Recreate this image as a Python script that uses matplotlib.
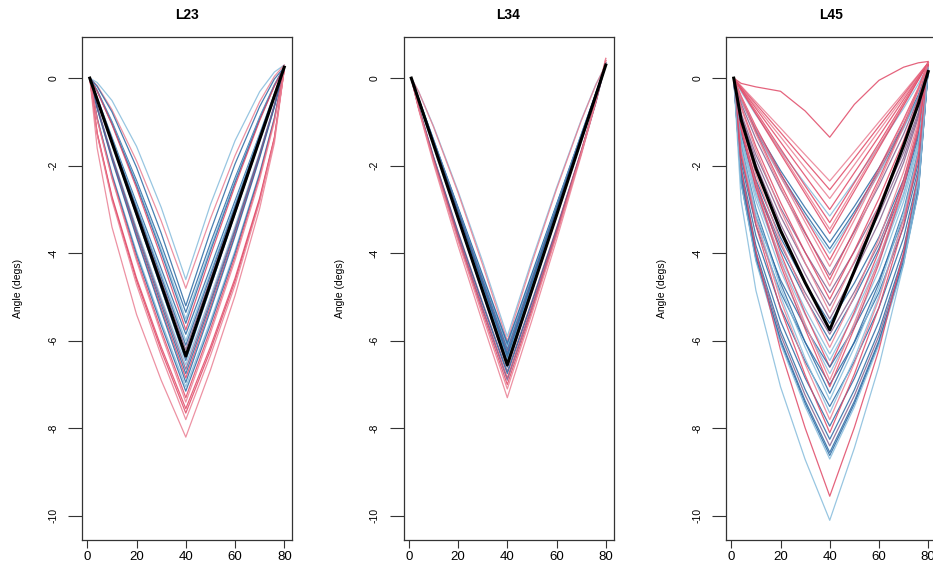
import matplotlib.pyplot as plt

plt.rcParams["font.family"] = ["Liberation Sans", "DejaVu Sans"]
plt.rcParams["axes.unicode_minus"] = False

knots = [1, 4, 10, 20, 30, 40, 50, 60, 70, 76, 80]

# group ids: 0 red, 1 pink, 2 light blue, 3 dark blue, 4 purple
l23 = [
    [0, -0.10, -0.51, -1.56, -2.95, -4.60, -2.89, -1.43, -0.31, 0.14, 0.30],
    [0, -0.17, -0.72, -1.89, -3.26, -4.80, -3.21, -1.77, -0.54, 0.04, 0.30],
    [0, -0.19, -0.77, -2.04, -3.54, -5.20, -3.50, -1.96, -0.65, -0.02, 0.25],
    [0, -0.28, -0.99, -2.34, -3.80, -5.35, -3.77, -2.28, -0.89, -0.15, 0.25],
    [0, -0.29, -1.02, -2.40, -3.91, -5.50, -3.88, -2.34, -0.92, -0.16, 0.25],
    [0, -0.29, -1.04, -2.45, -3.98, -5.60, -3.95, -2.39, -0.94, -0.17, 0.25],
    [0, -0.30, -1.06, -2.51, -4.09, -5.75, -4.06, -2.46, -0.97, -0.18, 0.25],
    [0, -0.45, -1.35, -2.85, -4.35, -5.85, -4.33, -2.80, -1.28, -0.36, 0.25],
    [0, -0.46, -1.39, -2.92, -4.46, -6.00, -4.44, -2.88, -1.31, -0.38, 0.25],
    [0, -0.47, -1.41, -2.97, -4.54, -6.10, -4.51, -2.93, -1.34, -0.39, 0.25],
    [0, -0.48, -1.43, -3.02, -4.61, -6.20, -4.59, -2.98, -1.36, -0.40, 0.25],
    [0, -0.50, -1.49, -3.14, -4.80, -6.45, -4.78, -3.10, -1.43, -0.42, 0.25],
    [0, -0.65, -1.75, -3.43, -5.02, -6.55, -5.00, -3.39, -1.70, -0.61, 0.25],
    [0, -0.66, -1.78, -3.48, -5.09, -6.65, -5.08, -3.45, -1.73, -0.62, 0.25],
    [0, -0.67, -1.80, -3.54, -5.17, -6.75, -5.15, -3.50, -1.76, -0.63, 0.25],
    [0, -0.68, -1.83, -3.59, -5.25, -6.85, -5.23, -3.56, -1.79, -0.64, 0.25],
    [0, -0.69, -1.86, -3.64, -5.32, -6.95, -5.31, -3.61, -1.82, -0.66, 0.25],
    [0, -0.90, -2.18, -3.97, -5.56, -7.05, -5.55, -3.94, -2.16, -0.90, 0.25],
    [0, -0.92, -2.21, -4.03, -5.64, -7.15, -5.63, -4.00, -2.19, -0.92, 0.25],
    [0, -0.93, -2.26, -4.11, -5.76, -7.30, -5.74, -4.08, -2.24, -0.94, 0.25],
    [0, -0.95, -2.29, -4.17, -5.84, -7.40, -5.83, -4.16, -2.31, -1.00, 0.20],
    [0, -1.25, -2.70, -4.57, -6.14, -7.55, -6.14, -4.57, -2.74, -1.35, 0.20],
    [0, -1.27, -2.74, -4.63, -6.22, -7.65, -6.22, -4.64, -2.78, -1.37, 0.20],
    [0, -1.29, -2.79, -4.72, -6.34, -7.80, -6.34, -4.73, -2.83, -1.40, 0.20],
    [0, -1.60, -3.40, -5.40, -6.90, -8.20, -6.67, -4.97, -2.98, -1.48, 0.20],
]
l23_group = [2, 1, 3, 3, 2, 3, 0, 3, 2, 3, 4, 3, 2, 4, 3, 0, 3, 2, 3, 0, 1, 0, 0, 1, 1]
l23_mean = [0, -0.49, -1.47, -3.09, -4.72, -6.35, -4.70, -3.05, -1.40, -0.41, 0.25]

l34 = [
    [0, -0.31, -1.09, -2.58, -4.19, -5.90, -4.15, -2.50, -0.96, -0.14, 0.30],
    [0, -0.31, -1.11, -2.62, -4.27, -6.00, -4.22, -2.54, -0.98, -0.15, 0.30],
    [0, -0.47, -1.40, -2.95, -4.50, -6.05, -4.46, -2.88, -1.29, -0.34, 0.30],
    [0, -0.47, -1.41, -2.97, -4.54, -6.10, -4.50, -2.90, -1.30, -0.34, 0.30],
    [0, -0.47, -1.42, -3.00, -4.58, -6.15, -4.54, -2.93, -1.31, -0.35, 0.30],
    [0, -0.48, -1.43, -3.02, -4.61, -6.20, -4.58, -2.95, -1.33, -0.35, 0.30],
    [0, -0.48, -1.44, -3.04, -4.65, -6.25, -4.61, -2.98, -1.34, -0.36, 0.30],
    [0, -0.49, -1.46, -3.07, -4.69, -6.30, -4.65, -3.00, -1.35, -0.36, 0.30],
    [0, -0.49, -1.47, -3.09, -4.72, -6.35, -4.69, -3.03, -1.36, -0.37, 0.30],
    [0, -0.49, -1.48, -3.12, -4.76, -6.40, -4.73, -3.05, -1.38, -0.37, 0.30],
    [0, -0.50, -1.49, -3.14, -4.80, -6.45, -4.76, -3.08, -1.39, -0.38, 0.30],
    [0, -0.50, -1.50, -3.17, -4.84, -6.50, -4.80, -3.10, -1.40, -0.38, 0.30],
    [0, -0.51, -1.52, -3.21, -4.91, -6.60, -4.88, -3.15, -1.43, -0.39, 0.30],
    [0, -0.66, -1.79, -3.51, -5.13, -6.70, -5.09, -3.43, -1.67, -0.54, 0.35],
    [0, -0.67, -1.80, -3.54, -5.17, -6.75, -5.13, -3.46, -1.69, -0.54, 0.35],
    [0, -0.68, -1.83, -3.59, -5.25, -6.85, -5.20, -3.49, -1.68, -0.51, 0.40],
    [0, -0.68, -1.84, -3.62, -5.29, -6.90, -5.25, -3.54, -1.73, -0.56, 0.35],
    [0, -0.69, -1.87, -3.67, -5.36, -7.00, -5.31, -3.57, -1.72, -0.53, 0.40],
    [0, -0.70, -1.90, -3.72, -5.44, -7.10, -5.38, -3.60, -1.72, -0.50, 0.45],
    [0, -0.72, -1.95, -3.83, -5.59, -7.30, -5.53, -3.70, -1.77, -0.53, 0.45],
]
l34_group = [2, 1, 3, 3, 2, 3, 4, 3, 3, 3, 2, 3, 3, 4, 3, 0, 4, 0, 1, 1]
l34_mean = [0, -0.50, -1.51, -3.19, -4.87, -6.55, -4.84, -3.13, -1.41, -0.39, 0.30]

l45 = [
    [0, -0.12, -0.20, -0.30, -0.75, -1.35, -0.60, -0.05, 0.25, 0.35, 0.38],
    [0, -0.18, -0.54, -1.14, -1.75, -2.35, -1.68, -1.00, -0.33, 0.08, 0.35],
    [0, -0.20, -0.59, -1.24, -1.90, -2.55, -1.83, -1.10, -0.38, 0.06, 0.35],
    [0, -0.21, -0.64, -1.34, -2.05, -2.75, -1.98, -1.20, -0.43, 0.04, 0.35],
    [0, -0.23, -0.69, -1.46, -2.23, -3.00, -2.16, -1.33, -0.49, 0.01, 0.35],
    [0, -0.31, -0.84, -1.65, -2.41, -3.15, -2.36, -1.55, -0.69, -0.13, 0.30],
    [0, -0.25, -0.76, -1.61, -2.46, -3.30, -2.39, -1.48, -0.56, -0.02, 0.35],
    [0, -0.27, -0.80, -1.68, -2.57, -3.45, -2.50, -1.55, -0.60, -0.03, 0.35],
    [0, -0.27, -0.82, -1.73, -2.64, -3.55, -2.58, -1.60, -0.63, -0.04, 0.35],
    [0, -0.48, -1.16, -2.11, -2.96, -3.75, -2.93, -2.05, -1.07, -0.38, 0.25],
    [0, -0.50, -1.21, -2.20, -3.08, -3.90, -3.05, -2.13, -1.12, -0.41, 0.25],
    [0, -0.51, -1.24, -2.25, -3.16, -4.00, -3.12, -2.19, -1.15, -0.42, 0.25],
    [0, -0.41, -1.11, -2.17, -3.18, -4.15, -3.12, -2.06, -0.94, -0.22, 0.35],
    [0, -0.43, -1.15, -2.25, -3.29, -4.30, -3.24, -2.14, -0.98, -0.24, 0.35],
    [0, -0.58, -1.39, -2.53, -3.55, -4.50, -3.51, -2.46, -1.28, -0.46, 0.30],
    [0, -0.46, -1.23, -2.41, -3.52, -4.60, -3.47, -2.30, -1.07, -0.27, 0.35],
    [0, -0.47, -1.27, -2.49, -3.64, -4.75, -3.59, -2.38, -1.11, -0.29, 0.35],
    [0, -0.81, -1.75, -2.96, -3.98, -4.90, -3.96, -2.92, -1.70, -0.78, 0.25],
    [0, -0.65, -1.56, -2.84, -3.98, -5.05, -3.94, -2.75, -1.43, -0.50, 0.35],
    [0, -0.86, -1.86, -3.15, -4.23, -5.20, -4.21, -3.11, -1.82, -0.84, 0.25],
    [0, -0.68, -1.65, -3.01, -4.22, -5.35, -4.18, -2.92, -1.53, -0.55, 0.35],
    [0, -0.91, -1.97, -3.33, -4.47, -5.50, -4.45, -3.29, -1.93, -0.90, 0.25],
    [0, -1.20, -2.32, -3.64, -4.69, -5.60, -4.68, -3.63, -2.32, -1.26, 0.20],
    [0, -1.26, -2.43, -3.80, -4.90, -5.85, -4.88, -3.78, -2.40, -1.28, 0.25],
    [0, -1.29, -2.49, -3.90, -5.02, -6.00, -5.01, -3.89, -2.50, -1.36, 0.20],
    [0, -1.02, -2.20, -3.72, -5.00, -6.15, -4.98, -3.67, -2.14, -0.99, 0.30],
    [0, -1.35, -2.61, -4.10, -5.27, -6.30, -5.27, -4.09, -2.63, -1.43, 0.20],
    [0, -1.39, -2.68, -4.19, -5.40, -6.45, -5.39, -4.19, -2.69, -1.47, 0.20],
    [0, -1.10, -2.36, -3.99, -5.37, -6.60, -5.34, -3.95, -2.32, -1.08, 0.30],
    [0, -1.83, -3.17, -4.61, -5.69, -6.60, -5.69, -4.61, -3.20, -1.95, 0.20],
    [0, -1.45, -2.80, -4.39, -5.65, -6.75, -5.64, -4.39, -2.82, -1.54, 0.20],
    [0, -1.15, -2.47, -4.17, -5.61, -6.90, -5.59, -4.14, -2.43, -1.14, 0.30],
    [0, -1.94, -3.36, -4.89, -6.03, -7.00, -6.04, -4.89, -3.40, -2.08, 0.20],
    [0, -1.17, -2.52, -4.27, -5.73, -7.05, -5.71, -4.23, -2.49, -1.17, 0.30],
    [0, -1.55, -2.99, -4.68, -6.03, -7.20, -6.02, -4.68, -3.02, -1.66, 0.20],
    [0, -1.58, -3.05, -4.78, -6.15, -7.35, -6.15, -4.78, -3.08, -1.70, 0.20],
    [0, -2.08, -3.60, -5.24, -6.47, -7.50, -6.47, -5.24, -3.65, -2.23, 0.20],
    [0, -1.64, -3.17, -4.97, -6.40, -7.65, -6.40, -4.98, -3.21, -1.77, 0.20],
    [0, -1.68, -3.24, -5.07, -6.53, -7.80, -6.51, -5.05, -3.22, -1.73, 0.30],
    [0, -2.20, -3.82, -5.55, -6.85, -7.95, -6.86, -5.56, -3.88, -2.38, 0.20],
    [0, -1.74, -3.36, -5.27, -6.78, -8.10, -6.76, -5.24, -3.35, -1.81, 0.30],
    [0, -2.29, -3.96, -5.76, -7.11, -8.25, -7.12, -5.77, -4.03, -2.47, 0.20],
    [0, -2.33, -4.03, -5.86, -7.24, -8.40, -7.25, -5.88, -4.10, -2.52, 0.20],
    [0, -2.37, -4.10, -5.97, -7.37, -8.55, -7.38, -5.99, -4.18, -2.57, 0.20],
    [0, -2.39, -4.14, -6.02, -7.43, -8.62, -7.44, -6.04, -4.21, -2.59, 0.20],
    [0, -2.41, -4.18, -6.07, -7.50, -8.70, -7.51, -6.09, -4.25, -2.61, 0.20],
    [0, -2.05, -3.96, -6.21, -7.99, -9.55, -7.98, -6.20, -3.98, -2.17, 0.30],
    [0, -2.80, -4.85, -7.05, -8.71, -10.10, -8.45, -6.58, -4.25, -2.35, 0.25],
]
l45_group = [0, 1, 0, 1, 0, 2, 0, 1, 0, 3, 3, 2, 0, 1, 4, 0, 1, 4, 0, 4, 1, 4,
             3, 4, 3, 1, 2, 2, 0, 3, 2, 1, 3, 0, 3, 2, 3, 2, 1, 3, 0, 3, 4, 3,
             3, 2, 0, 2]
l45_mean = [0, -0.95, -2.06, -3.48, -4.67, -5.75, -4.40, -3.01, -1.54, -0.59, 0.15]

titles = ["L23", "L34", "L45"]

palette = {0: "#E04866", 1: "#EA7F93", 2: "#86BCDC", 3: "#2A69A3", 4: "#86628F"}


def main():
    fig = plt.figure(figsize=(9.33, 5.68), dpi=100)
    lefts = [0.0879, 0.4325, 0.7781]
    panels = zip(titles, [l23, l34, l45], [l23_group, l34_group, l45_group],
                 [l23_mean, l34_mean, l45_mean], lefts)

    for title, curves, groups, mean, left in panels:
        ax = fig.add_axes([left, 0.0493, 0.2251, 0.8856])
        for ys, g in zip(curves, groups):
            ax.plot(knots, ys, color=palette[g], lw=0.9, alpha=0.85,
                    solid_joinstyle="round")
        ax.plot(knots, mean, color="black", lw=2.2, solid_joinstyle="round")

        ax.set_xlim(-2.16, 83.16)
        ax.set_ylim(-10.55, 0.94)
        ax.set_xticks([0, 20, 40, 60, 80])
        ax.set_yticks([0, -2, -4, -6, -8, -10])
        ax.tick_params(axis="x", length=6, width=0.8, pad=2, labelsize=9.5,
                       color="#333333")
        ax.tick_params(axis="y", length=10, width=0.8, pad=7, labelsize=7.5,
                       labelrotation=90, color="#333333")
        for lab in ax.get_yticklabels():
            lab.set_va("center")
        for s in ax.spines.values():
            s.set_linewidth(0.9)
            s.set_color("#333333")
        ax.set_ylabel("Angle (degs)", fontsize=7.5, labelpad=18)
        ax.set_title(title, fontweight="bold", fontsize=10, pad=13)

    fig.savefig("out.png", dpi=100)


if __name__ == "__main__":
    main()
